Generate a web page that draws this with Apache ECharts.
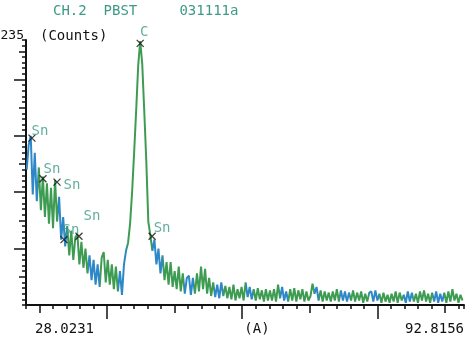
<!DOCTYPE html>
<html>
<head>
<meta charset="utf-8">
<script src="https://cdn.jsdelivr.net/npm/echarts@6/dist/echarts.min.js"></script>
<style>
html,body{margin:0;padding:0;background:#fff}
#chart{width:472px;height:354px}
</style>
</head>
<body>
<div id="chart"></div>
<script>
// scan: 2-theta (deg) and counts
const twoTheta = [
  28.1, 28.4, 28.7, 29.0, 29.3, 29.6, 29.9, 30.2, 30.5, 30.8,
  31.1, 31.4, 31.7, 32.0, 32.3, 32.6, 32.9, 33.2, 33.5, 33.8,
  34.1, 34.4, 34.7, 35.0, 35.3, 35.6, 35.9, 36.2, 36.5, 36.8,
  37.1, 37.4, 37.7, 38.0, 38.3, 38.6, 38.9, 39.2, 39.5, 39.8,
  40.1, 40.4, 40.7, 41.0, 41.3, 41.6, 41.9, 42.2, 42.5, 42.8,
  43.1, 43.4, 43.7, 44.0, 44.3, 44.6, 44.9, 45.2, 45.5, 45.8,
  46.1, 46.4, 46.7, 47.0, 47.3, 47.6, 47.9, 48.2, 48.5, 48.8,
  49.1, 49.4, 49.7, 50.0, 50.3, 50.6, 50.9, 51.2, 51.5, 51.8,
  52.1, 52.4, 52.7, 53.0, 53.3, 53.6, 53.9, 54.2, 54.5, 54.8,
  55.1, 55.4, 55.7, 56.0, 56.3, 56.6, 56.9, 57.2, 57.5, 57.8,
  58.1, 58.4, 58.7, 59.0, 59.3, 59.6, 59.9, 60.2, 60.5, 60.8,
  61.1, 61.4, 61.7, 62.0, 62.3, 62.6, 62.9, 63.2, 63.5, 63.8,
  64.1, 64.4, 64.7, 65.0, 65.3, 65.6, 65.9, 66.2, 66.5, 66.8,
  67.1, 67.4, 67.7, 68.0, 68.3, 68.6, 68.9, 69.2, 69.5, 69.8,
  70.1, 70.4, 70.7, 71.0, 71.3, 71.6, 71.9, 72.2, 72.5, 72.8,
  73.1, 73.4, 73.7, 74.0, 74.3, 74.6, 74.9, 75.2, 75.5, 75.8,
  76.1, 76.4, 76.7, 77.0, 77.3, 77.6, 77.9, 78.2, 78.5, 78.8,
  79.1, 79.4, 79.7, 80.0, 80.3, 80.6, 80.9, 81.2, 81.5, 81.8,
  82.1, 82.4, 82.7, 83.0, 83.3, 83.6, 83.9, 84.2, 84.5, 84.8,
  85.1, 85.4, 85.7, 86.0, 86.3, 86.6, 86.9, 87.2, 87.5, 87.8,
  88.1, 88.4, 88.7, 89.0, 89.3, 89.6, 89.9, 90.2, 90.5, 90.8,
  91.1, 91.4, 91.7, 92.0, 92.3, 92.6
];
const counts = [
  120, 142, 150, 98, 135, 92, 122, 84, 114, 78,
  108, 72, 104, 68, 111, 74, 96, 58, 78, 52,
  70, 44, 66, 40, 60, 63, 36, 56, 33, 50,
  28, 44, 22, 40, 18, 36, 16, 42, 47, 20,
  40, 18, 36, 14, 34, 12, 30, 9, 36, 48,
  55, 72, 100, 135, 172, 212, 234, 214, 172, 128,
  74, 62, 48, 58, 36, 50, 28, 44, 22, 38,
  18, 38, 16, 30, 14, 34, 12, 28, 10, 24,
  26, 9, 24, 10, 28, 12, 34, 14, 32, 10,
  24, 8, 20, 7, 18, 6, 20, 8, 17, 6,
  16, 5, 18, 4, 14, 6, 16, 4, 20, 7,
  16, 5, 14, 4, 15, 5, 13, 3, 14, 4,
  13, 4, 14, 3, 18, 6, 16, 4, 12, 3,
  14, 4, 15, 3, 13, 5, 14, 3, 12, 4,
  8, 19, 10, 16, 4, 13, 3, 12, 4, 11,
  3, 12, 4, 14, 3, 13, 4, 12, 3, 11,
  4, 13, 3, 11, 4, 12, 2, 10, 3, 11,
  12, 3, 13, 4, 10, 2, 11, 3, 9, 2,
  10, 3, 12, 2, 11, 4, 9, 2, 12, 3,
  11, 3, 10, 2, 12, 4, 13, 3, 10, 2,
  11, 3, 12, 2, 10, 3, 11, 2, 12, 3,
  14, 4, 10, 2, 9, 4
];

// marked peaks
const peakNames = ['Sn', 'Sn', 'Sn', 'Sn', 'Sn', 'C', 'Sn'];
const peakTheta = [28.88, 30.51, 32.59, 33.62, 35.84, 44.9, 46.66];
const peakCounts = [148, 112, 109, 58, 61, 232, 61];

// stretches of the trace printed in blue
const blueRanges = [
  [27.8, 29.77], [32.73, 34.07], [37.18, 38.96], [41.62, 42.95],
  [46.66, 48.3], [51.4, 52.9], [55.84, 57.2], [60.6, 61.6],
  [65.6, 66.7], [70.67, 71.4], [74.4, 75.9], [78.8, 80.2],
  [83.8, 85.3], [88.3, 89.8]
];

// axis range and ticks
const xMin = 28.0231, xMax = 92.8156;
const yMin = 0, yMax = 235;
const minorTickStartX = 28, minorStepX = 2;
const midTicksX = [30, 50, 70, 90];
const majorTicksX = [40, 60, 80];
const midTicksY = [25, 75, 125, 175, 225];
const majorTicksY = [50, 100, 150, 200];

const titleText = 'CH.2  PBST     031111a';

const MONO = '"DejaVu Sans Mono", "Liberation Mono", monospace';
const GREEN = '#3e9c52';
const BLUE = '#2e88c8';
const TEAL = '#3c9a86';

// where each peak label sits relative to its cross
const labelOffsets = [[8, -7], [9, -9], [15, 3], [7, -9], [13, -20], [4, -11], [10, -8]];

let chart = echarts.init(document.getElementById('chart'));

let scan = twoTheta.map((t, i) => [t, counts[i]]);
let peaks = peakTheta.map((t, i) => ({
  value: [t, peakCounts[i]],
  name: peakNames[i],
  label: { offset: labelOffsets[i] }
}));

function xAxisBase(extra) {
  return Object.assign({
    type: 'value',
    min: xMin,
    max: xMax,
    position: 'bottom',
    splitLine: { show: false },
    axisLine: { show: false, onZero: false },
    axisLabel: { show: false },
    axisTick: { show: false }
  }, extra);
}
function yAxisBase(extra) {
  return Object.assign({
    type: 'value',
    min: yMin,
    max: yMax,
    position: 'left',
    splitLine: { show: false },
    axisLine: { show: false, onZero: false },
    axisLabel: { show: false },
    axisTick: { show: false }
  }, extra);
}
// interval 0: v6 would otherwise thin out dense ticks
function ticks(len, extra) {
  return Object.assign({ show: true, interval: 0, length: len, lineStyle: { color: '#111', width: 1.5 } }, extra);
}
const labelFont = { fontFamily: MONO, fontSize: 14, color: '#111' };

let option = {
  animation: false,
  backgroundColor: '#fff',
  title: {
    text: titleText,
    left: 48,
    top: -1,
    textStyle: { fontFamily: MONO, fontSize: 14, fontWeight: 'normal', color: TEAL }
  },
  // keep the grid where it is, even though "235" reaches the left edge
  grid: { left: 26, right: 8, top: 40, bottom: 49, outerBoundsMode: 'none' },
  xAxis: [
    // data axis: carries the line and the small ticks every 2 deg,
    // the same way the y data axis carries its ticks every 5 counts
    xAxisBase({
      min: minorTickStartX,
      interval: minorStepX,
      axisLine: { show: true, onZero: false, lineStyle: { color: '#111', width: 2 } },
      axisTick: ticks(4)
    }),
    xAxisBase({
      axisTick: ticks(8, { customValues: midTicksX })
    }),
    xAxisBase({
      axisTick: ticks(14, { customValues: majorTicksX }),
      name: '(A)',
      nameLocation: 'middle',
      nameGap: 17,
      nameTextStyle: Object.assign({ verticalAlign: 'top', padding: [0, 0, 0, 24] }, labelFont)
    }),
    // range end labels
    xAxisBase({
      axisLabel: Object.assign({
        show: true, customValues: [xMin], formatter: v => v.toFixed(4),
        align: 'left', padding: [0, 0, 0, 9], margin: 17
      }, labelFont)
    }),
    xAxisBase({
      axisLabel: Object.assign({
        show: true, customValues: [xMax], formatter: v => v.toFixed(4),
        align: 'right', margin: 17
      }, labelFont)
    })
  ],
  yAxis: [
    yAxisBase({
      interval: 5,
      axisLine: { show: true, onZero: false, lineStyle: { color: '#111', width: 2 } },
      axisTick: ticks(4),
      axisLabel: {
        show: true, customValues: [yMax], margin: 2,
        formatter: v => '{a|' + v + '}',
        rich: { a: Object.assign({}, labelFont, { fontSize: 13, padding: [0, 0, 8, 0] }) }
      },
      name: '(Counts)',
      nameLocation: 'end',
      nameGap: 4,
      nameTextStyle: Object.assign({ align: 'left', verticalAlign: 'middle', padding: [0, 0, 0, 14] }, labelFont)
    }),
    yAxisBase({
      axisTick: ticks(7, { customValues: midTicksY })
    }),
    yAxisBase({
      axisTick: ticks(12, { customValues: majorTicksY })
    })
  ],
  visualMap: {
    show: false,
    type: 'piecewise',
    seriesIndex: 0,
    dimension: 0,
    pieces: blueRanges.map(r => ({ gte: r[0], lt: r[1], color: BLUE })),
    outOfRange: { color: GREEN }
  },
  series: [
    {
      name: 'scan',
      type: 'line',
      data: scan,
      showSymbol: false,
      lineStyle: { width: 2 },
      z: 2
    },
    {
      name: 'peaks',
      type: 'scatter',
      data: peaks,
      symbol: 'path://M0,0L10,10M10,0L0,10',
      symbolSize: 7,
      itemStyle: { color: 'none', borderColor: '#111', borderWidth: 1.3 },
      label: {
        show: true,
        position: 'inside',
        formatter: p => p.name,
        fontFamily: MONO,
        fontSize: 14,
        color: TEAL
      },
      z: 3
    }
  ]
};

chart.setOption(option);
</script>
</body>
</html>
